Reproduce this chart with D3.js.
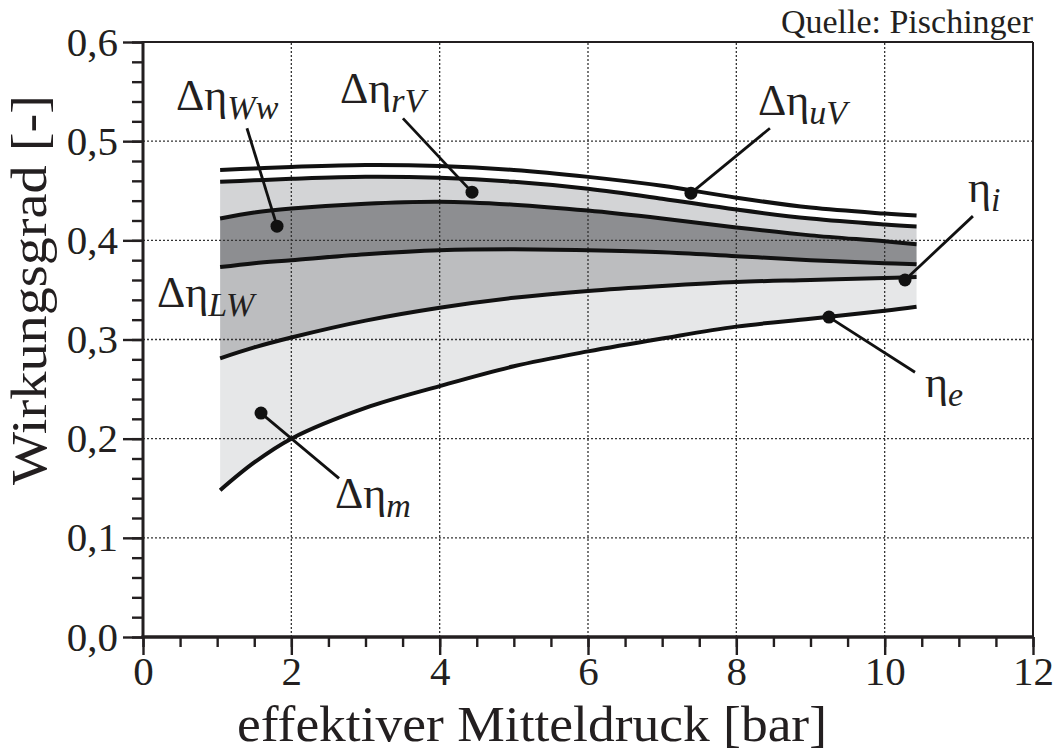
<!DOCTYPE html>
<html>
<head>
<meta charset="utf-8">
<script src="https://cdn.jsdelivr.net/npm/d3@7"></script>
<style>
  body { margin: 0; background: #fff; }
  svg { display: block; }
  text { font-family: "Liberation Serif", "Times New Roman", serif; fill: #231f20; }
</style>
</head>
<body>
<svg id="chart" width="1058" height="754"></svg>
<script>
// Mean effective pressure [bar] at which the efficiency chain is evaluated
const pressure = [1.04, 1.5, 2, 3, 4, 5, 6, 7, 8, 9, 10, 10.43];

// Efficiency chain, from the ideal cycle down to the effective efficiency
const etaIdeal    = [0.471, 0.4725, 0.474, 0.476, 0.475, 0.471, 0.464, 0.455, 0.443, 0.433, 0.427, 0.425];
const etaAfterUV  = [0.459, 0.4605, 0.462, 0.464, 0.463, 0.459, 0.452, 0.442, 0.431, 0.422, 0.416, 0.414];
const etaAfterRV  = [0.422, 0.428, 0.432, 0.437, 0.439, 0.436, 0.430, 0.422, 0.413, 0.405, 0.399, 0.396];
const etaAfterWw  = [0.373, 0.377, 0.380, 0.386, 0.390, 0.391, 0.390, 0.388, 0.384, 0.380, 0.377, 0.376];
const etaInternal = [0.281, 0.292, 0.302, 0.319, 0.332, 0.342, 0.349, 0.354, 0.358, 0.360, 0.362, 0.363];
const etaEff      = [0.148, 0.176, 0.200, 0.231, 0.253, 0.273, 0.288, 0.301, 0.313, 0.321, 0.329, 0.333];

// Axis ticks
const xTicks = [0, 2, 4, 6, 8, 10, 12];
const xTickLabels = ["0", "2", "4", "6", "8", "10", "12"];
const yTicks = [0, 0.1, 0.2, 0.3, 0.4, 0.5, 0.6];
const yTickLabels = ["0,0", "0,1", "0,2", "0,3", "0,4", "0,5", "0,6"];

// Loss labels: text, label anchor, marker point, leader end (data units)
const annoMain  = ["Δη", "Δη", "Δη", "Δη", "Δη", "η", "η"];
const annoSub   = ["Ww", "rV", "uV", "LW", "m", "i", "e"];
const annoLabel = [[0.445, 0.531], [2.656, 0.538], [8.292, 0.526], [0.189, 0.333], [2.589, 0.130], [11.123, 0.4385], [10.543, 0.242]];
const annoDot   = [[1.807, 0.4143], [4.436, 0.4486], [7.388, 0.4476], null, [1.591, 0.2258], [10.274, 0.360], [9.249, 0.3226]];
const annoEnd   = [[1.402, 0.513], [3.505, 0.523], [8.453, 0.513], null, [2.643, 0.160], [11.19, 0.4244], [10.409, 0.267]];

const svg = d3.select("#chart");
const x = d3.scaleLinear().domain([0, 12]).range([143, 1033]);
const y = d3.scaleLinear().domain([0, 0.6]).range([637, 42]);

const curves = [etaIdeal, etaAfterUV, etaAfterRV, etaAfterWw, etaInternal, etaEff];
const bandFill = ["none", "#d3d4d6", "#8d8e91", "#bcbdbf", "#e6e7e8"];
const smooth = d3.curveCatmullRom.alpha(0.5);

// Filled loss bands between consecutive curves
const area = (upper, lower) => d3.area()
  .x((d, i) => x(pressure[i]))
  .y1((d, i) => y(upper[i]))
  .y0((d, i) => y(lower[i]))
  .curve(smooth)(pressure);

svg.append("g").selectAll("path")
  .data(bandFill.map((c, i) => ({ c, i })).filter(d => d.c !== "none"))
  .join("path")
  .attr("d", d => area(curves[d.i], curves[d.i + 1]))
  .attr("fill", d => d.c);

// Dotted grid
const grid = svg.append("g").attr("stroke", "#333").attr("stroke-width", 1.3).attr("stroke-dasharray", "2,2");
grid.selectAll("line.gx").data(xTicks.slice(1, -1)).join("line")
  .attr("x1", d => x(d)).attr("x2", d => x(d)).attr("y1", y(0)).attr("y2", y(0.6));
grid.selectAll("line.gy").data(yTicks.slice(1, -1)).join("line")
  .attr("y1", d => y(d)).attr("y2", d => y(d)).attr("x1", x(0)).attr("x2", x(12));

// Efficiency curves
const line = data => d3.line()
  .x((d, i) => x(pressure[i]))
  .y((d, i) => y(data[i]))
  .curve(smooth)(pressure);

svg.append("g").selectAll("path").data(curves).join("path")
  .attr("d", d => line(d))
  .attr("fill", "none").attr("stroke", "#111").attr("stroke-width", 4);

// Frame
svg.append("line").attr("x1", x(0)).attr("x2", x(12)).attr("y1", y(0.6)).attr("y2", y(0.6))
  .attr("stroke", "#231f20").attr("stroke-width", 2);
svg.append("line").attr("x1", x(12)).attr("x2", x(12)).attr("y1", y(0.6)).attr("y2", y(0))
  .attr("stroke", "#231f20").attr("stroke-width", 2);

// Axes
const yMinor = svg.append("g").attr("transform", `translate(${x(0)},0)`)
  .call(d3.axisLeft(y).tickValues(d3.range(0, 31).map(i => i * 0.02)).tickSize(11).tickFormat(""));
const yMajor = svg.append("g").attr("transform", `translate(${x(0)},0)`)
  .call(d3.axisLeft(y).tickValues(yTicks).tickSize(20).tickPadding(5).tickFormat((d, i) => yTickLabels[i]));
const xMinor = svg.append("g").attr("transform", `translate(0,${y(0)})`)
  .call(d3.axisBottom(x).tickValues(d3.range(0, 25).map(i => i * 0.5)).tickSize(10).tickFormat(""));
const xMajor = svg.append("g").attr("transform", `translate(0,${y(0)})`)
  .call(d3.axisBottom(x).tickValues(xTicks).tickSize(18).tickPadding(1).tickFormat((d, i) => xTickLabels[i]));

[yMinor, yMajor, xMinor, xMajor].forEach(g => {
  g.select(".domain").remove();
  g.selectAll(".tick line").attr("stroke", "#231f20").attr("stroke-width", 2.4);
  g.selectAll("text").attr("font-size", 41).attr("fill", "#231f20")
    .style("font-family", '"Liberation Serif", serif');
});

svg.append("line").attr("x1", x(0)).attr("x2", x(0)).attr("y1", y(0.6) - 1).attr("y2", y(0) + 1.5)
  .attr("stroke", "#231f20").attr("stroke-width", 3);
svg.append("line").attr("x1", x(0) - 1.5).attr("x2", x(12) + 1).attr("y1", y(0)).attr("y2", y(0))
  .attr("stroke", "#231f20").attr("stroke-width", 3.5);

// Axis titles
svg.append("text").attr("x", 532).attr("y", 741).attr("text-anchor", "middle")
  .attr("font-size", 51).attr("textLength", 590).attr("lengthAdjust", "spacingAndGlyphs")
  .text("effektiver Mitteldruck [bar]");
svg.append("text").attr("transform", "translate(46,290) rotate(-90)").attr("text-anchor", "middle")
  .attr("font-size", 50).attr("textLength", 390).attr("lengthAdjust", "spacingAndGlyphs")
  .text("Wirkungsgrad [-]");
svg.append("text").attr("x", x(12)).attr("y", 33).attr("text-anchor", "end")
  .attr("font-size", 34).text("Quelle: Pischinger");

// Leader lines, markers and loss labels
const anno = svg.append("g");
annoMain.forEach((m, i) => {
  if (annoDot[i]) {
    anno.append("line")
      .attr("x1", x(annoDot[i][0])).attr("y1", y(annoDot[i][1]))
      .attr("x2", x(annoEnd[i][0])).attr("y2", y(annoEnd[i][1]))
      .attr("stroke", "#111").attr("stroke-width", 2.8);
    anno.append("circle")
      .attr("cx", x(annoDot[i][0])).attr("cy", y(annoDot[i][1])).attr("r", 6.5)
      .attr("fill", "#111");
  }
  const t = anno.append("text").attr("x", x(annoLabel[i][0])).attr("y", y(annoLabel[i][1]))
    .attr("font-size", 44);
  t.append("tspan").text(m);
  t.append("tspan").attr("font-style", "italic").attr("font-size", 34).attr("dy", 9).text(annoSub[i]);
});
</script>
</body>
</html>
